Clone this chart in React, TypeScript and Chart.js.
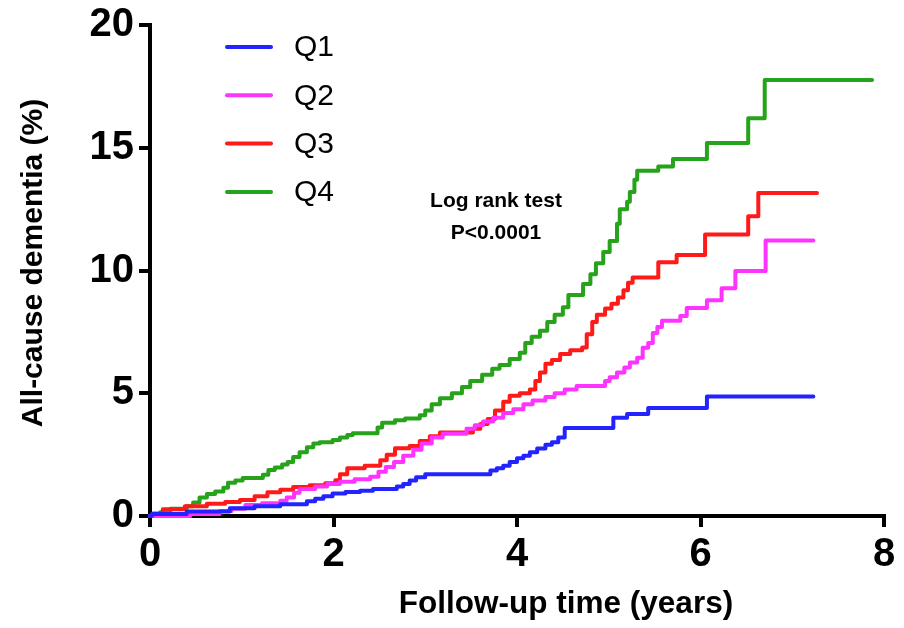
import { useEffect, useRef } from 'react';
import { Chart, registerables } from 'chart.js';

Chart.register(...registerables);

const FONT = '"Liberation Sans", Arial, Helvetica, sans-serif';

const seriesNames = ['Q1', 'Q2', 'Q3', 'Q4'];
const seriesColors = ['#2323ff', '#ff33ff', '#ff1a1a', '#27a31b'];

// Follow-up time (years) at each step and the cumulative incidence (%) reached there
const q1Times = [0, 0.02, 0.4, 0.87, 1.14, 1.42, 1.71, 1.8, 1.89, 1.99, 2.13, 2.29, 2.43, 2.69, 2.76, 2.83, 2.9, 3.0, 3.71, 3.78, 3.85, 3.92, 4.0, 4.07, 4.14, 4.22, 4.31, 4.38, 4.45, 4.52, 5.05, 5.2, 5.43, 6.07, 7.23];
const q1Values = [0, 0.08, 0.18, 0.32, 0.4, 0.48, 0.6, 0.7, 0.8, 0.92, 0.98, 1.03, 1.1, 1.2, 1.3, 1.45, 1.58, 1.7, 1.85, 1.95, 2.05, 2.2, 2.35, 2.45, 2.6, 2.75, 2.9, 3.0, 3.2, 3.58, 4.0, 4.15, 4.4, 4.87, 4.87];

const q2Times = [0, 0.44, 0.76, 0.89, 1.04, 1.22, 1.42, 1.49, 1.57, 1.63, 1.8, 1.93, 2.07, 2.23, 2.4, 2.49, 2.57, 2.66, 2.76, 2.87, 2.96, 3.07, 3.19, 3.45, 3.54, 3.63, 3.74, 3.85, 3.96, 4.07, 4.17, 4.31, 4.41, 4.52, 4.65, 4.96, 5.01, 5.09, 5.17, 5.23, 5.31, 5.37, 5.43, 5.48, 5.53, 5.58, 5.78, 5.85, 6.07, 6.23, 6.38, 6.71, 7.23];
const q2Values = [0, 0.08, 0.2, 0.3, 0.45, 0.52, 0.62, 0.75, 0.95, 1.1, 1.2, 1.3, 1.4, 1.5, 1.6, 1.8, 2.0, 2.2, 2.45, 2.7, 2.95, 3.2, 3.35, 3.55, 3.7, 3.85, 4.0, 4.2, 4.35, 4.55, 4.7, 4.85, 5.0, 5.15, 5.3, 5.5, 5.65, 5.85, 6.05, 6.25, 6.45, 6.85, 7.05, 7.45, 7.7, 7.95, 8.15, 8.47, 8.79, 9.28, 9.98, 11.22, 11.22];

const q3Times = [0, 0.03, 0.14, 0.38, 0.62, 0.82, 0.98, 1.14, 1.28, 1.42, 1.56, 1.74, 1.91, 2.02, 2.07, 2.15, 2.34, 2.51, 2.58, 2.67, 2.83, 2.94, 3.05, 3.16, 3.52, 3.6, 3.68, 3.76, 3.85, 3.92, 4.03, 4.14, 4.2, 4.25, 4.31, 4.38, 4.47, 4.58, 4.71, 4.76, 4.82, 4.87, 4.96, 5.03, 5.1, 5.16, 5.21, 5.26, 5.54, 5.74, 6.05, 6.52, 6.63, 7.27];
const q3Values = [0, 0.1, 0.28, 0.4, 0.5, 0.57, 0.65, 0.8, 0.97, 1.07, 1.18, 1.25, 1.33, 1.46, 1.7, 1.95, 2.05, 2.27, 2.5, 2.76, 2.85, 3.05, 3.25, 3.4, 3.55, 3.75, 3.95, 4.3, 4.65, 4.9, 5.0, 5.15, 5.5, 5.85, 6.2, 6.35, 6.6, 6.75, 6.86, 7.4, 7.9, 8.2, 8.45, 8.65, 8.9, 9.2, 9.5, 9.71, 10.34, 10.63, 11.47, 12.21, 13.16, 13.16];

const q4Times = [0, 0.11, 0.22, 0.4, 0.47, 0.54, 0.62, 0.71, 0.8, 0.85, 0.93, 1.01, 1.23, 1.29, 1.36, 1.44, 1.5, 1.56, 1.63, 1.71, 1.78, 1.85, 1.99, 2.07, 2.15, 2.21, 2.48, 2.53, 2.67, 2.78, 2.94, 3.0, 3.07, 3.16, 3.29, 3.4, 3.49, 3.62, 3.73, 3.81, 3.92, 4.03, 4.09, 4.16, 4.25, 4.33, 4.41, 4.5, 4.56, 4.72, 4.8, 4.86, 4.94, 5.01, 5.09, 5.12, 5.2, 5.23, 5.28, 5.31, 5.54, 5.7, 6.07, 6.52, 6.7, 7.87];
const q4Values = [0, 0.15, 0.3, 0.4, 0.55, 0.75, 0.9, 1.0, 1.15, 1.35, 1.45, 1.55, 1.68, 1.87, 1.98, 2.1, 2.2, 2.4, 2.6, 2.8, 2.95, 3.0, 3.1, 3.2, 3.3, 3.37, 3.6, 3.8, 3.9, 3.97, 4.1, 4.3, 4.55, 4.8, 5.0, 5.25, 5.5, 5.75, 6.0, 6.15, 6.4, 6.65, 7.05, 7.3, 7.55, 7.9, 8.2, 8.5, 9.0, 9.45, 9.85, 10.3, 10.75, 11.2, 11.9, 12.5, 12.8, 13.2, 13.7, 14.06, 14.24, 14.54, 15.19, 16.2, 17.76, 17.76];

const seriesTimes = [q1Times, q2Times, q3Times, q4Times];
const seriesValues = [q1Values, q2Values, q3Values, q4Values];

const xTickValues = [0, 2, 4, 6, 8];
const yTickValues = [0, 5, 10, 15, 20];
const xTitle = 'Follow-up time (years)';
const yTitle = 'All-cause dementia (%)';
const annotationLines = ['Log rank test', 'P<0.0001'];

const overlayPlugin = {
  id: 'kmOverlay',
  afterDatasetsDraw(chart: any) {
    const ctx = chart.ctx;
    const { left, top } = chart.chartArea;
    ctx.save();
    // legend
    chart.data.datasets.forEach((ds: any, i: number) => {
      const y = top + 22 + i * 48.3;
      ctx.strokeStyle = ds.borderColor;
      ctx.lineWidth = 4;
      ctx.lineCap = 'round';
      ctx.beginPath();
      ctx.moveTo(left + 77, y);
      ctx.lineTo(left + 121, y);
      ctx.stroke();
      ctx.fillStyle = '#000';
      ctx.font = `30px ${FONT}`;
      ctx.textBaseline = 'middle';
      ctx.textAlign = 'left';
      ctx.fillText(ds.label, left + 144, y + 1);
    });
    // annotation
    ctx.font = `bold 21px ${FONT}`;
    ctx.textAlign = 'center';
    ctx.textBaseline = 'middle';
    ctx.fillStyle = '#000';
    annotationLines.forEach((line, i) => {
      ctx.fillText(line, left + 346, top + 176 + i * 32);
    });
    // axis titles
    ctx.font = `bold 31.5px ${FONT}`;
    ctx.fillText(xTitle, 566, 604);
    ctx.translate(34, 263);
    ctx.rotate(-Math.PI / 2);
    ctx.font = `bold 30px ${FONT}`;
    ctx.fillText(yTitle, 0, 0);
    ctx.restore();
  },
};

export default function App() {
  const canvasRef = useRef<HTMLCanvasElement | null>(null);

  useEffect(() => {
    document.body.style.margin = '0';
    const canvas = canvasRef.current;
    if (!canvas) return;
    const datasets = seriesNames.map((name, i) => ({
      label: name,
      data: seriesTimes[i].map((t, j) => ({ x: t, y: seriesValues[i][j] })),
      borderColor: seriesColors[i],
      backgroundColor: seriesColors[i],
      borderWidth: 4,
      pointRadius: 0,
      stepped: 'before' as const,
      fill: false,
      clip: false as any,
      borderJoinStyle: 'round' as const,
      borderCapStyle: 'round' as const,
    }));

    const tickFont = { family: FONT, size: 40, weight: 'bold' as const, lineHeight: 1.0 };

    const chart = new Chart(canvas, {
      type: 'line',
      data: { datasets },
      options: {
        animation: false,
        responsive: false,
        maintainAspectRatio: false,
        layout: { padding: { top: 23, right: 20, left: 0, bottom: 0 } },
        plugins: { legend: { display: false }, tooltip: { enabled: false } },
        scales: {
          x: {
            type: 'linear',
            min: 0,
            max: 8,
            afterFit: (scale: any) => { scale.height = 112; },
            afterBuildTicks: (scale: any) => { scale.ticks = xTickValues.map((v) => ({ value: v })); },
            ticks: {
              color: '#000',
              font: tickFont,
              padding: 8,
              maxRotation: 0,
            },
            grid: {
              display: true,
              drawOnChartArea: false,
              drawTicks: true,
              tickLength: 11,
              lineWidth: 4,
              color: '#000',
            },
            border: { display: true, color: '#000', width: 4 },
            title: { display: false },
          },
          y: {
            type: 'linear',
            min: 0,
            max: 20,
            afterFit: (scale: any) => { scale.width = 150; },
            afterBuildTicks: (scale: any) => { scale.ticks = yTickValues.map((v) => ({ value: v })); },
            ticks: {
              color: '#000',
              font: tickFont,
              padding: 5,
            },
            grid: {
              display: true,
              drawOnChartArea: false,
              drawTicks: true,
              tickLength: 11,
              lineWidth: 4,
              color: '#000',
            },
            border: { display: true, color: '#000', width: 4 },
            title: { display: false },
          },
        },
      },
      plugins: [overlayPlugin],
    });
    return () => chart.destroy();
  }, []);

  return (
    <div style={{ width: 904, height: 628 }}>
      <canvas ref={canvasRef} width={904} height={628} style={{ width: 904, height: 628, display: 'block' }} />
    </div>
  );
}
